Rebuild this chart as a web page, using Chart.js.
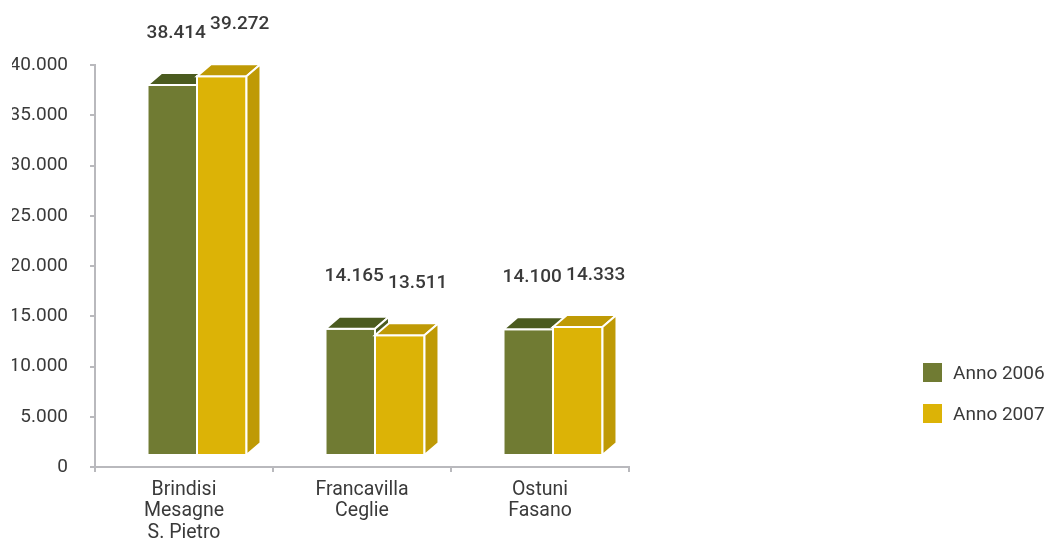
<!DOCTYPE html>
<html lang="it">
  <head>
    <meta charset="UTF-8" />
    <title>Anno 2006 - Anno 2007</title>
    <style>
      body { margin: 0; background: #fff; }
      .wrap { position: relative; width: 1045px; height: 540px; }
      .legend { position: absolute; left: 923px; top: 363px; font: 19px Roboto, sans-serif; color: #3a3a3a; }
      .legend div { display: flex; align-items: center; height: 19px; margin-bottom: 22px; }
      .legend span.box { display: inline-block; width: 19px; height: 19px; margin-right: 11px; }
    </style>
  </head>
  <body>
    <div class="wrap">
      <canvas id="bar" width="1045" height="540"></canvas>
      <div class="legend" id="legend"></div>
    </div>

    <script src="https://cdn.jsdelivr.net/npm/chart.js@4"></script>
    <script>
      const categories = [["Brindisi", "Mesagne", "S. Pietro"], ["Francavilla", "Ceglie"], ["Ostuni", "Fasano"]];
      const seriesNames = ["Anno 2006", "Anno 2007"];
      const anno2006 = [38414, 14165, 14100];
      const anno2007 = [39272, 13511, 14333];
      const yTicks = [0, 5000, 10000, 15000, 20000, 25000, 30000, 35000, 40000];

      // front / darker face colours for each series
      const frontColors = ["#707b33", "#dcb306"];
      const shadeColors = ["#4b5b1f", "#bf9a05"];

      const depthX = 14;
      const depthY = 12;
      const axisColor = "#b9b9bd";
      const textColor = "#3a3a3a";

      function fmt(v) {
        return String(v).replace(/\B(?=(\d{3})+(?!\d))/g, ".");
      }

      // legend
      const legend = document.getElementById("legend");
      seriesNames.forEach((name, i) => {
        const row = document.createElement("div");
        row.innerHTML = '<span class="box" style="background:' + frontColors[i] + '"></span>' + name;
        legend.appendChild(row);
      });

      // draws each bar as a box (front, top, side) plus its value above
      const boxes = {
        id: "boxes",
        afterDatasetsDraw(chart) {
          const ctx = chart.ctx;
          ctx.save();
          ctx.strokeStyle = "#fff";
          ctx.lineWidth = 2;
          ctx.lineJoin = "miter";
          chart.data.datasets.forEach((ds, i) => {
            const meta = chart.getDatasetMeta(i);
            meta.data.forEach((el) => {
              const p = el.getProps(["x", "y", "base", "width"], true);
              const left = p.x - p.width / 2 + 13;
              const right = left + p.width;
              const top = p.y + 4;
              const bottom = p.base - 11;

              ctx.fillStyle = frontColors[i];
              ctx.beginPath();
              ctx.rect(left, top, right - left, bottom - top);
              ctx.fill();
              ctx.stroke();

              ctx.fillStyle = shadeColors[i];
              ctx.beginPath();
              ctx.moveTo(left, top);
              ctx.lineTo(left + depthX, top - depthY);
              ctx.lineTo(right + depthX, top - depthY);
              ctx.lineTo(right, top);
              ctx.closePath();
              ctx.fill();
              ctx.stroke();

              ctx.beginPath();
              ctx.moveTo(right, top);
              ctx.lineTo(right + depthX, top - depthY);
              ctx.lineTo(right + depthX, bottom - depthY);
              ctx.lineTo(right, bottom);
              ctx.closePath();
              ctx.fill();
              ctx.stroke();
            });
          });

          ctx.fillStyle = textColor;
          ctx.font = "500 19px Roboto, sans-serif";
          ctx.textAlign = "center";
          ctx.textBaseline = "middle";
          chart.data.datasets.forEach((ds, i) => {
            const meta = chart.getDatasetMeta(i);
            meta.data.forEach((el, j) => {
              const p = el.getProps(["x", "y"], true);
              const nudge = i === 0 ? 17 : 31;
              ctx.fillText(fmt(ds.data[j]), p.x + nudge, p.y - 48);
            });
          });
          ctx.restore();
        },
      };

      const ctx = document.getElementById("bar").getContext("2d");
      new Chart(ctx, {
        type: "bar",
        data: {
          labels: categories,
          datasets: [
            { label: seriesNames[0], data: anno2006, backgroundColor: "rgba(0,0,0,0)", borderWidth: 0 },
            { label: seriesNames[1], data: anno2007, backgroundColor: "rgba(0,0,0,0)", borderWidth: 0 },
          ],
        },
        options: {
          responsive: false,
          animation: false,
          layout: { padding: { top: 65, left: 12, right: 416, bottom: 0 } },
          plugins: { legend: { display: false }, tooltip: { enabled: false } },
          datasets: { bar: { categoryPercentage: 0.556, barPercentage: 1 } },
          scales: {
            x: {
              grid: { drawOnChartArea: false, tickLength: 5, color: axisColor, lineWidth: 2 },
              border: { color: axisColor, width: 2 },
              ticks: { color: textColor, font: { family: "Roboto", size: 19.5, lineHeight: 1.08 }, padding: 8, maxRotation: 0 },
              afterFit(scale) { scale.height = 73; },
            },
            y: {
              min: 0,
              max: 40000,
              afterBuildTicks(scale) { scale.ticks = yTicks.map((v) => ({ value: v })); },
              afterFit(scale) { scale.width = 83; },
              grid: { drawOnChartArea: false, tickLength: 5, color: axisColor, lineWidth: 2 },
              border: { color: axisColor, width: 2 },
              ticks: { color: textColor, font: { family: "Roboto", size: 19 }, padding: 22, callback: (v) => fmt(v) },
            },
          },
        },
        plugins: [boxes],
      });
    </script>
  </body>
</html>
